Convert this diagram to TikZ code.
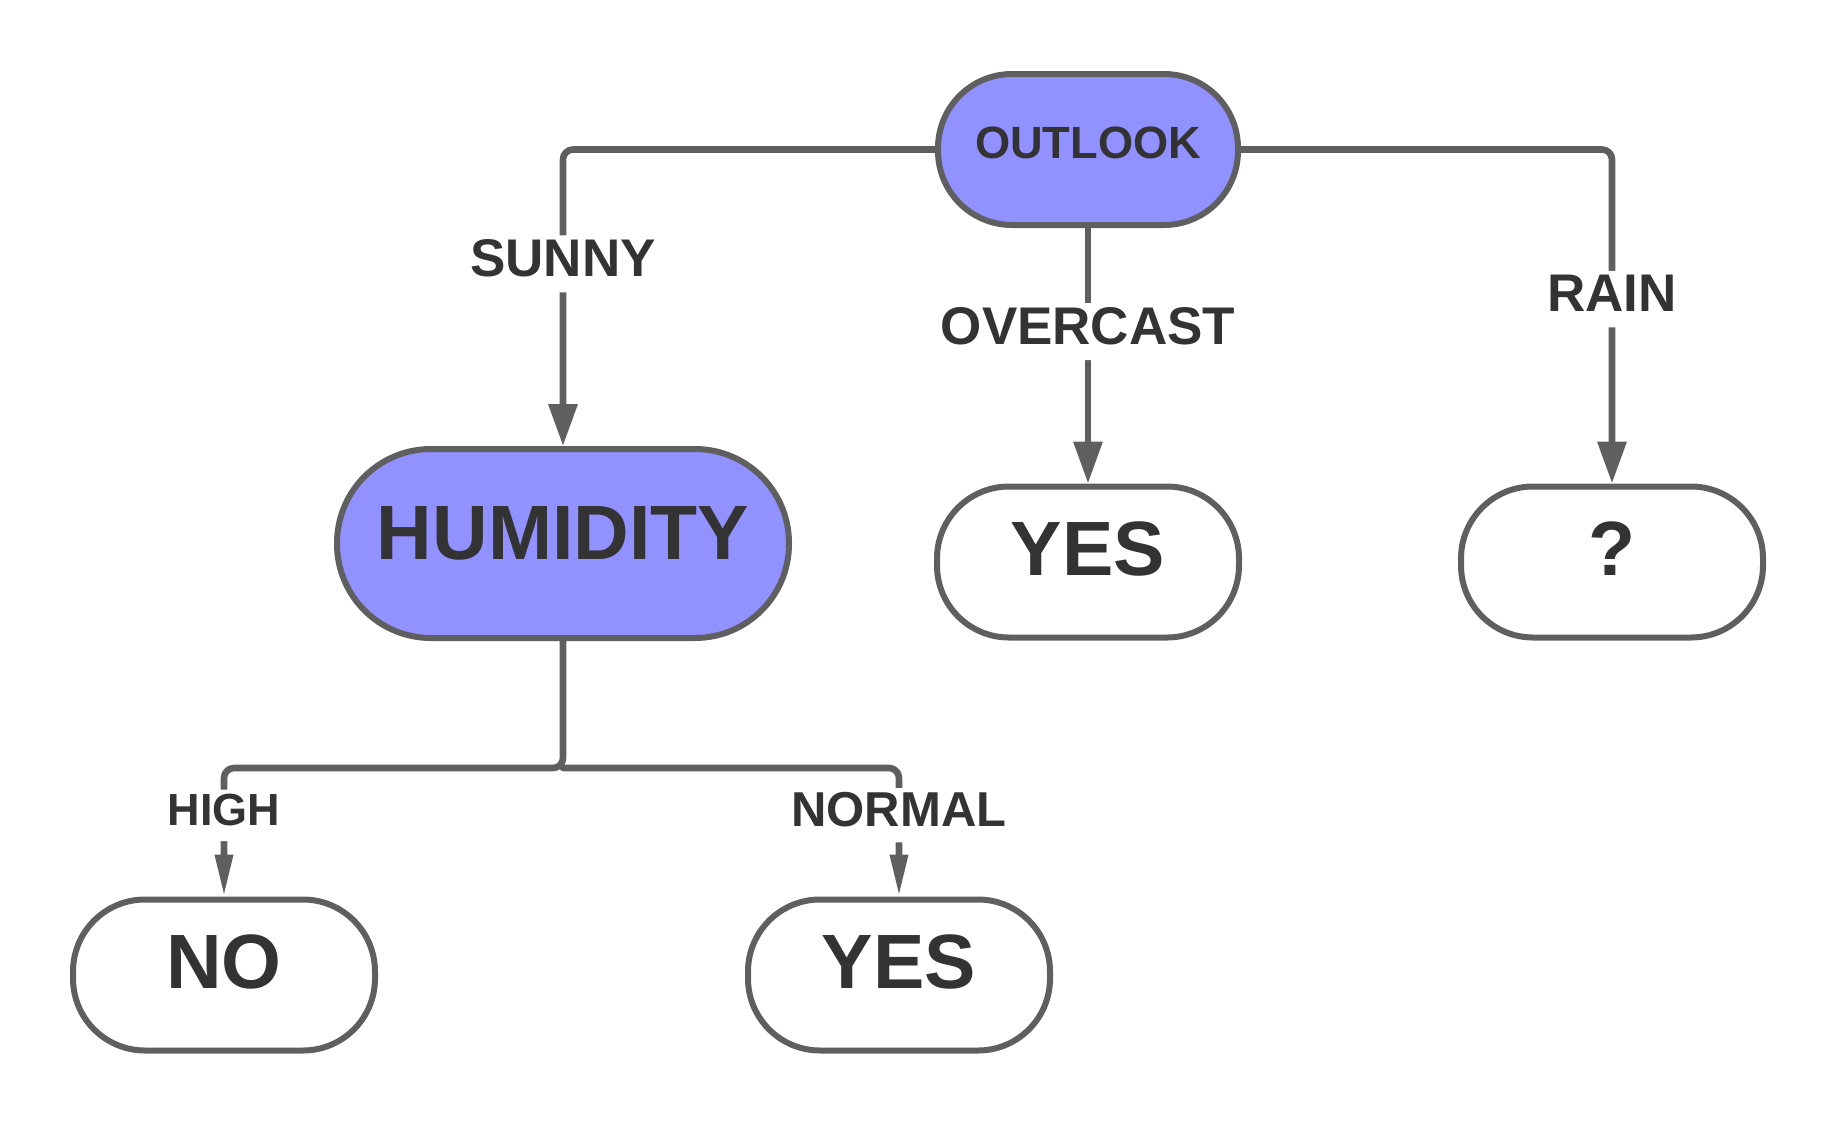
\documentclass[tikz,border=0pt]{standalone}
\usepackage{fontspec}
\setmainfont{Liberation Sans}
\usepackage{tikz}
\usetikzlibrary{arrows.meta}
\definecolor{edgegray}{RGB}{95,95,95}
\definecolor{txtgray}{RGB}{51,51,51}
\definecolor{lilac}{RGB}{145,145,255}

\begin{document}
\begin{tikzpicture}[line cap=round,line join=round,>={Triangle[length=21pt,width=14pt]},x=0.5pt,y=-0.5pt,
    dec/.style={rectangle, draw=edgegray, line width=3pt, fill=lilac, text=txtgray, rounded corners=37pt, minimum width=150pt, minimum height=75.5pt, text depth=6.5pt, font=\bfseries\fontsize{22.6}{26}\selectfont},
    leaf/.style={rectangle, draw=edgegray, line width=3pt, fill=white, text=txtgray, rounded corners=36pt, minimum width=151pt, minimum height=75.5pt, text depth=13pt, font=\bfseries\fontsize{38.5}{44}\selectfont},
    lbl/.style={fill=white, text=txtgray, inner sep=2pt, text depth=6pt, font=\bfseries\fontsize{26.5}{30}\selectfont},
    con/.style={draw=edgegray, line width=3.3pt, rounded corners=5pt}]
                    \useasboundingbox (0,0) rectangle (1838,1125);

                    \node[dec] (outlook) at (1088,149.5) {OUTLOOK};
                    \node[dec, minimum width=226pt, minimum height=94.5pt, rounded corners=47pt, text depth=10pt, font=\bfseries\fontsize{38.5}{44}\selectfont] (humidity) at (563,543.5) {HUMIDITY};
                    \node[leaf] (yes1) at (1088,562) {YES};
                    \node[leaf] (unk) at (1612,562) {?};
                    \node[leaf] (no) at (224,975) {NO};
                    \node[leaf] (yes2) at (899,975) {YES};
                    \coordinate (split) at (563,768);

                    \draw [con,->] (outlook.west) -| node[lbl, pos=0.693] {SUNNY} (humidity.north);
                    \draw [con,->] (outlook.south) -- node[lbl, pos=0.406] {OVERCAST} (yes1.north);
                    \draw [con,->] (outlook.east) -| node[lbl, pos=0.724] {RAIN} (unk.north);

                    \draw [con,-{Triangle[length=21pt,width=8.5pt]}] (humidity.south) -- (split) -| node[lbl, pos=0.684, font=\bfseries\fontsize{22.5}{26}\selectfont] {HIGH} (no.north);
                    \draw [con,-{Triangle[length=21pt,width=8.5pt]}] (split) -| node[lbl, pos=0.684, font=\bfseries\fontsize{24.5}{28}\selectfont] {NORMAL} (yes2.north);
                \end{tikzpicture}
\end{document}
